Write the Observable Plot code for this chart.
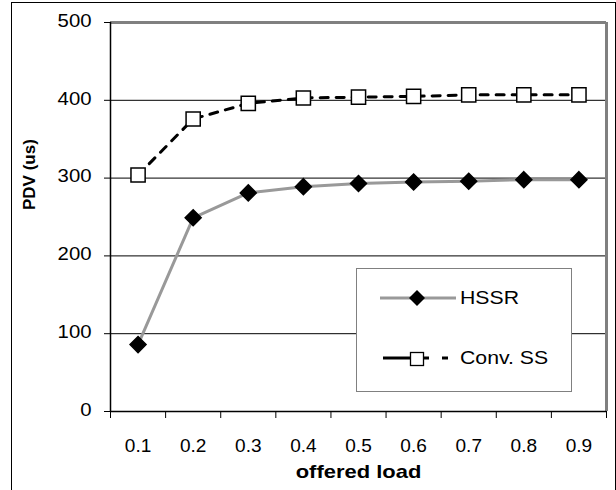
<!DOCTYPE html>
<html>
<head>
<meta charset="utf-8">
<script src="https://cdn.jsdelivr.net/npm/d3@7"></script>
<script src="https://cdn.jsdelivr.net/npm/@observablehq/plot@0.6"></script>
<style>
  html, body { margin: 0; padding: 0; background: #fff; }
  #wrap { position: relative; width: 616px; height: 490px; overflow: hidden; font-family: "Liberation Sans", Arial, sans-serif; }
  #frame { position: absolute; left: 11px; top: 2px; width: 603px; height: 520px; border: 1px solid #000; }
  #chart { position: absolute; left: 0; top: 0; }
  #legend { position: absolute; left: 356px; top: 268px; width: 214px; height: 122px; border: 1px solid #808080; background: #fff; }
  .item { position: absolute; left: 0; height: 24px; display: flex; align-items: center; font-size: 18px; color: #000; }
  .item svg { display: block; }
  .item span { display: inline-block; transform: scaleX(1.18); transform-origin: left center; margin-left: 3px; }
</style>
</head>
<body>
<div id="wrap">
  <div id="frame"></div>
  <div id="chart"></div>
  <div id="legend"></div>
</div>
<script>
const loads = [0.1, 0.2, 0.3, 0.4, 0.5, 0.6, 0.7, 0.8, 0.9];
const hssr = [86, 249, 281, 289, 293, 295, 296, 298, 298];
const convSS = [304, 376, 396, 403, 404, 405, 407, 407, 407];
const yTicks = [0, 100, 200, 300, 400, 500];
const seriesNames = ["HSSR", "Conv. SS"];
const xLabel = "offered load";
const yLabel = "PDV (us)";

const dataH = loads.map((x, i) => ({x, y: hssr[i]}));
const dataC = loads.map((x, i) => ({x, y: convSS[i]}));
const bounds = loads.map(v => +(v - 0.05).toFixed(2)).concat([0.95]);
const font = "Liberation Sans, Arial, sans-serif";
const fmtX = d3.format(".1f");

const chart = Plot.plot({
  width: 616,
  height: 490,
  marginLeft: 110,
  marginRight: 10,
  marginTop: 22,
  marginBottom: 79,
  style: {fontFamily: font, fontSize: "18px", background: "transparent", color: "#000"},
  x: {type: "linear", domain: [0.05, 0.95], axis: null},
  y: {domain: [0, 500], axis: null},
  marks: [
    Plot.ruleY(yTicks.filter(d => d > 0 && d < 500), {stroke: "#000", strokeWidth: 1}),
    Plot.ruleY([500], {stroke: "#808080", strokeWidth: 3}),
    Plot.ruleX([0.95], {stroke: "#808080", strokeWidth: 3}),
    Plot.axisY({ticks: yTicks, tickSize: 6, tickPadding: 13, label: null, tickFormat: d => String(d), fontSize: 18}),
    Plot.axisX({ticks: bounds, tickSize: 7, tickFormat: () => "", label: null}),
    Plot.axisX({ticks: loads, tickSize: 0, tickPadding: 28, tickFormat: fmtX, label: null, fontSize: 18}),
    Plot.ruleX([0.05], {stroke: "#000", strokeWidth: 1.5}),
    Plot.ruleY([0], {stroke: "#000", strokeWidth: 1.5}),
    Plot.line(dataH, {x: "x", y: "y", stroke: "#999", strokeWidth: 3}),
    Plot.line(dataC, {x: "x", y: "y", stroke: "#000", strokeWidth: 3, strokeDasharray: "8,8"}),
    Plot.dot(dataH, {x: "x", y: "y", symbol: "diamond2", r: 7.2, fill: "#000", stroke: "#000"}),
    Plot.dot(dataC, {x: "x", y: "y", symbol: "square", r: 8, fill: "#fff", stroke: "#000", strokeWidth: 1.5}),
    Plot.text([yLabel], {frameAnchor: "left", dx: -81, dy: -7, rotate: -90, text: d => d, fontWeight: "bold", fontSize: 17}),
    Plot.text([xLabel], {frameAnchor: "bottom", dy: 66, text: d => d, fontWeight: "bold", fontSize: 18})
  ]
});
document.getElementById("chart").appendChild(chart);

// widen glyphs horizontally around each text's anchor point (reference font renders wider)
const yStr = yTicks.map(String), xStr = loads.map(fmtX);
chart.querySelectorAll("text").forEach(t => {
  const s = t.textContent.trim();
  let f = 1, dy = 0;
  if (s === xLabel) f = 1.22;
  else if (xStr.includes(s) && t.getAttribute("text-anchor") !== "end") f = 1.06;
  else if (yStr.includes(s)) { f = 1.13; dy = -1.5; }
  if (f === 1) return;
  const x = parseFloat(t.getAttribute("x")) || 0;
  const tr = t.getAttribute("transform") || "";
  t.setAttribute("transform", `${tr} translate(${x},${dy}) scale(${f},1) translate(${-x},0)`);
});

// legend
const legend = document.getElementById("legend");
const items = [
  {name: seriesNames[0], top: 17, svg: `<svg width="100" height="24"><line x1="23" y1="12" x2="99" y2="12" stroke="#999" stroke-width="3"/><path d="M60,4 L68,12 L60,20 L52,12 Z" fill="#000"/></svg>`},
  {name: seriesNames[1], top: 77, svg: `<svg width="100" height="24"><line x1="26" y1="12" x2="54" y2="12" stroke="#000" stroke-width="3"/><line x1="66" y1="12" x2="72" y2="12" stroke="#000" stroke-width="3"/><line x1="85" y1="12" x2="91" y2="12" stroke="#000" stroke-width="3"/><rect x="53.5" y="6.5" width="13" height="13" fill="#fff" stroke="#000" stroke-width="1.3"/></svg>`}
];
for (const it of items) {
  const d = document.createElement("div");
  d.className = "item";
  d.style.top = it.top + "px";
  d.innerHTML = it.svg + `<span>${it.name}</span>`;
  legend.appendChild(d);
}
</script>
</body>
</html>
